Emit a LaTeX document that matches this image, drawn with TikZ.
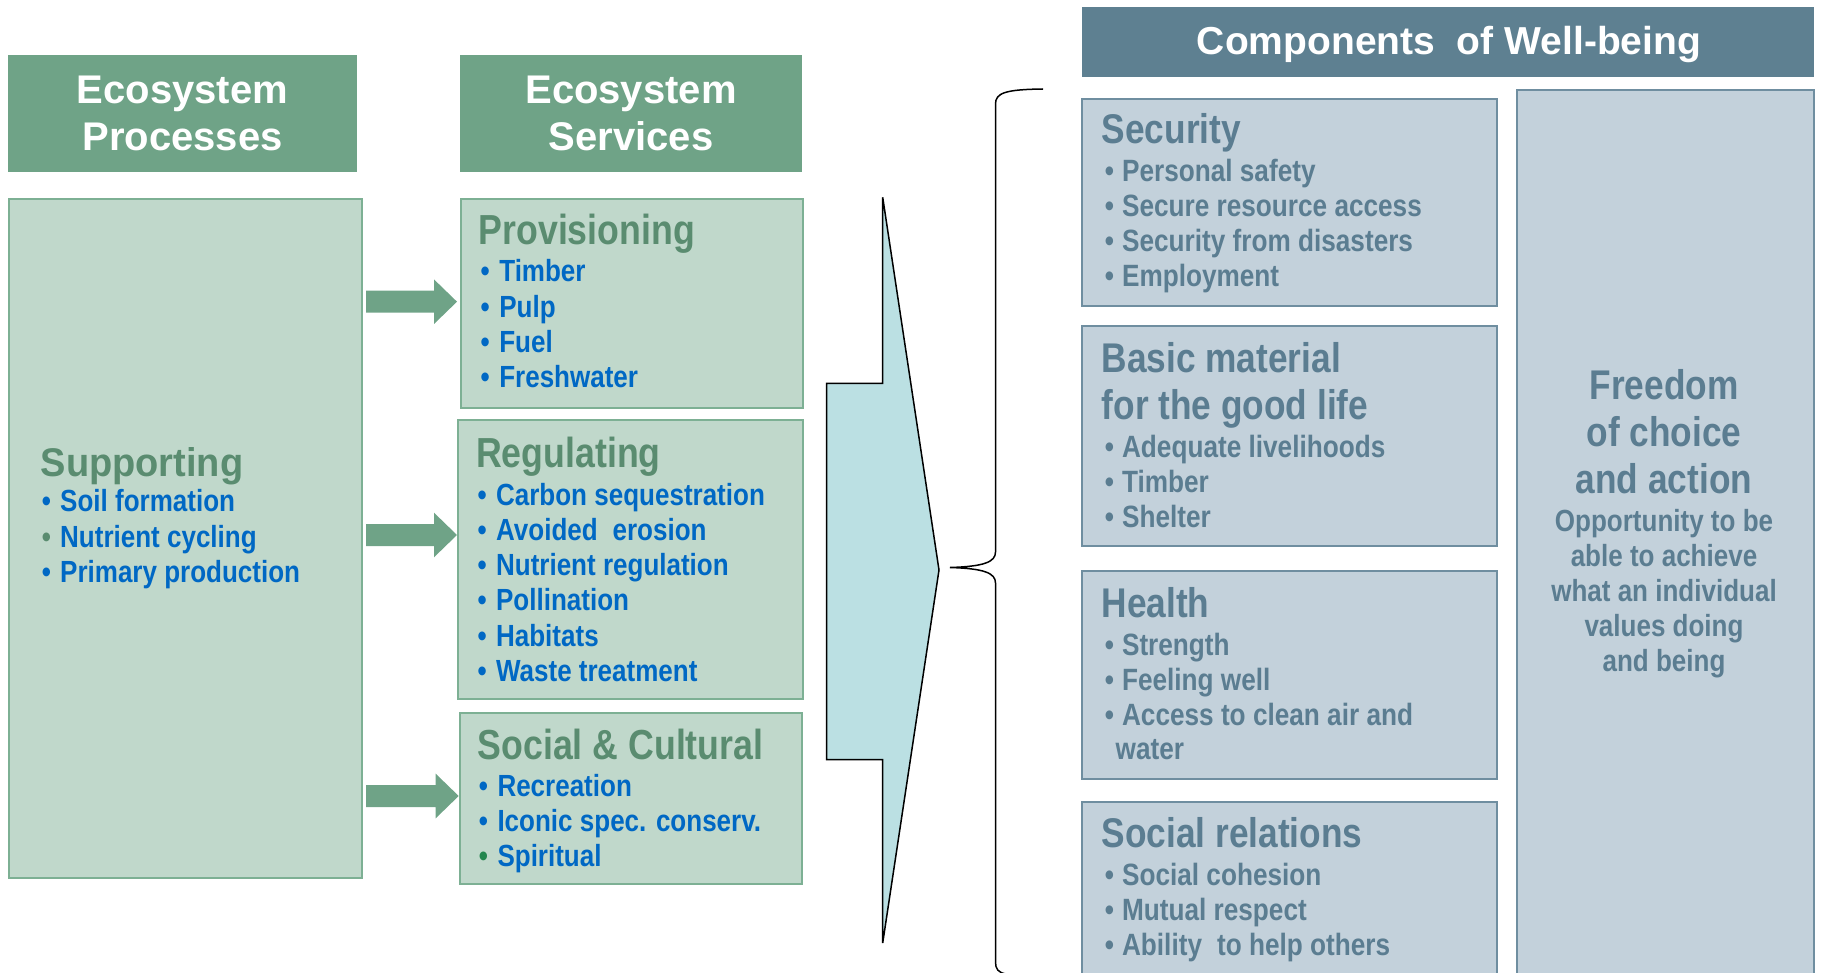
\documentclass[tikz,border=0pt]{standalone}
\usepackage{fontspec}
\setmainfont{Liberation Sans}
\newfontfamily\condensed{Liberation Sans}[FakeStretch=0.85]
\newfontfamily\semicond{Liberation Sans}[FakeStretch=0.95]

\definecolor{hdrgreen}{HTML}{6FA387}
\definecolor{boxgreen}{HTML}{C0D8CB}
\definecolor{edgegreen}{HTML}{7DB094}
\definecolor{headgreen}{HTML}{5A8C70}
\definecolor{itemblue}{HTML}{0068C4}
\definecolor{dotgreen}{HTML}{23864E}
\definecolor{titleblue}{HTML}{5E8091}
\definecolor{boxslate}{HTML}{C3D1DB}
\definecolor{edgeslate}{HTML}{6F8EA0}
\definecolor{textslate}{HTML}{5B7D91}
\definecolor{bigcyan}{HTML}{BBE0E3}

% block arrow: #1 tail x, #2 tip x, #3 centre y
\newcommand{\flowarrow}[3]{%
  \fill[hdrgreen] (#1,#3-11) -- (#2-23,#3-11) -- (#2-23,#3-22.3) -- (#2,#3)
    -- (#2-23,#3+22.3) -- (#2-23,#3+11) -- (#1,#3+11) -- cycle;}

\begin{document}
\begin{tikzpicture}[x=1pt, y=-1pt,
  panel/.style={inner sep=0pt, outer sep=0pt, anchor=north west},
  hdrbox/.style={panel, fill=hdrgreen},
  greenbox/.style={panel, fill=boxgreen, draw=edgegreen, line width=1.5pt},
  slatebox/.style={panel, fill=boxslate, draw=edgeslate, line width=1.5pt},
  hdrtext/.style={inner sep=0pt, align=center, text=white,
    font=\bfseries\fontsize{40pt}{47pt}\selectfont},
  txtline/.style={inner sep=0pt, anchor=base west},
  lhead/.style={txtline, text=headgreen, font=\condensed\bfseries\fontsize{42pt}{42pt}\selectfont},
  shead/.style={txtline, text=headgreen, font=\semicond\bfseries\fontsize{40pt}{40pt}\selectfont},
  litem/.style={txtline, text=itemblue, font=\condensed\bfseries\fontsize{30.6pt}{30.6pt}\selectfont},
  rhead/.style={txtline, text=textslate, font=\condensed\bfseries\fontsize{41.5pt}{41.5pt}\selectfont},
  ritem/.style={txtline, text=textslate, font=\condensed\bfseries\fontsize{30.8pt}{30.8pt}\selectfont},
  fhead/.style={inner sep=0pt, anchor=base, text=textslate, font=\condensed\bfseries\fontsize{41.5pt}{41.5pt}\selectfont},
  fbody/.style={inner sep=0pt, anchor=base, text=textslate, font=\condensed\bfseries\fontsize{30.6pt}{30.6pt}\selectfont}
]
\useasboundingbox (0,0) rectangle (1821,973);

% ---------- left: processes and services ----------
\node[hdrbox, minimum width=349pt, minimum height=117pt] (hdrP) at (8,55) {};
\node[hdrbox, minimum width=342pt, minimum height=117pt] (hdrS) at (460,55) {};
\node[hdrtext] (hdrPtext) at (hdrP.center) {Ecosystem\\Processes};
\node[hdrtext] (hdrStext) at (hdrS.center) {Ecosystem\\Services};

\node[greenbox, minimum width=353pt, minimum height=679pt] (supp) at (9,199) {};
\node[greenbox, minimum width=342pt, minimum height=209pt] (prov) at (461,199) {};
\node[greenbox, minimum width=345pt, minimum height=279pt] (regu) at (458,420) {};
\node[greenbox, minimum width=342pt, minimum height=171pt] (socc) at (460,713) {};

% supporting
\node[shead] (suppH) at (40.5,476) {Supporting};
\node[litem] (supp0) at (41.6,511.7) {\textbullet\hspace{9.3pt}Soil formation};
\node[litem] (supp1) at (41.6,547) {{\color{headgreen}\textbullet}\hspace{9.3pt}Nutrient cycling};
\node[litem] (supp2) at (41.6,582.3) {\textbullet\hspace{9.3pt}Primary production};

% provisioning
\node[lhead] (provH) at (478.5,245) {Provisioning};
\foreach \t [count=\i from 0] in {Timber, Pulp, Fuel, Freshwater}
  \node[litem] (prov\i) at (480.5,{282+\i*35.3}) {\textbullet\hspace{9.5pt}\t};

% regulating
\node[lhead] (reguH) at (476,467.3) {Regulating};
\foreach \t [count=\i from 0] in {Carbon sequestration, Avoided\hspace{0.25em} erosion,
    Nutrient regulation, Pollination, Habitats, Waste treatment}
  \node[litem] (regu\i) at (477.3,{505+\i*35.3}) {\textbullet\hspace{9.5pt}\t};

% social and cultural
\node[lhead] (soccH) at (477.5,759.3) {Social \& Cultural};
\node[litem] (socc0) at (478.7,796) {\textbullet\hspace{9.5pt}Recreation};
\node[litem] (socc1) at (478.7,831.3) {\textbullet\hspace{9.5pt}Iconic spec. conserv.};
\node[litem] (socc2) at (478.7,866.6) {{\color{dotgreen}\textbullet}\hspace{9.5pt}Spiritual};

% flow from processes to services
\flowarrow{366}{457}{301.7}
\flowarrow{366}{457}{535}
\flowarrow{366}{458.7}{796}

% ---------- large arrow and brace ----------
\draw[fill=bigcyan, line width=1.5pt, line join=miter]
  (826.7,383.4) -- (882.7,383.4) -- (882.7,197.3) -- (939,570)
  -- (882.7,943) -- (882.7,759.5) -- (826.7,759.5) -- cycle;

\draw[line width=1.5pt]
  (1043,89) .. controls (1005,89.5) and (995.5,93) .. (995.5,104)
  -- (995.5,552) .. controls (995.5,562) and (984,566.5) .. (950,567.5)
  .. controls (984,568.5) and (995.5,573) .. (995.5,583)
  -- (995.5,962) .. controls (995.5,969) and (998,972.5) .. (1006,974);

% ---------- right: components of well-being ----------
\node[panel, fill=titleblue, minimum width=732pt, minimum height=70pt] (title) at (1082,7) {};
\node[inner sep=0pt, anchor=base, text=white, font=\bfseries\fontsize{39pt}{39pt}\selectfont]
  (titletext) at (1449,55) {Components\hspace{0.28em} of Well-being};

\node[slatebox, minimum width=415pt, minimum height=207pt] (sec) at (1082,99) {};
\node[slatebox, minimum width=415pt, minimum height=220pt] (basic) at (1082,326) {};
\node[slatebox, minimum width=415pt, minimum height=208pt] (health) at (1082,571) {};
\node[slatebox, minimum width=415pt, minimum height=190pt] (socrel) at (1082,802) {};
\node[slatebox, minimum width=297pt, minimum height=900pt] (free) at (1517,90) {};

% security
\node[rhead] (secH) at (1101.5,144) {Security};
\foreach \t [count=\i from 0] in {Personal safety, Secure resource access,
    Security from disasters, Employment}
  \node[ritem] (sec\i) at (1104.7,{181.5+\i*35}) {\textbullet\hspace{8pt}\t};

% basic material
\node[rhead] (basicH) at (1101.5,372.7) {Basic material};
\node[rhead] (basicH2) at (1101.5,419.3) {for the good life};
\foreach \t [count=\i from 0] in {Adequate livelihoods, Timber, Shelter}
  \node[ritem] (basic\i) at (1104.7,{457+\i*35}) {\textbullet\hspace{8pt}\t};

% health
\node[rhead] (healthH) at (1101.5,617) {Health};
\foreach \t [count=\i from 0] in {Strength, Feeling well, Access to clean air and}
  \node[ritem] (health\i) at (1104.7,{655.5+\i*35}) {\textbullet\hspace{8pt}\t};
\node[ritem] (health3) at (1115.5,759.5) {water};

% social relations
\node[rhead] (socrelH) at (1101.5,847.5) {Social relations};
\foreach \t [count=\i from 0] in {Social cohesion, Mutual respect,
    Ability\hspace{0.25em} to help others}
  \node[ritem] (socrel\i) at (1104.7,{885.5+\i*35}) {\textbullet\hspace{8pt}\t};

% freedom of choice
\foreach \t [count=\i from 0] in {Freedom, of choice, and action}
  \node[fhead] (freeH\i) at (1664,{400+\i*46.7}) {\t};
\foreach \t [count=\i from 0] in {Opportunity to be, able to achieve,
    what an individual, values doing, and being}
  \node[fbody] (free\i) at (1664,{531.5+\i*35.1}) {\t};
\end{tikzpicture}
\end{document}
